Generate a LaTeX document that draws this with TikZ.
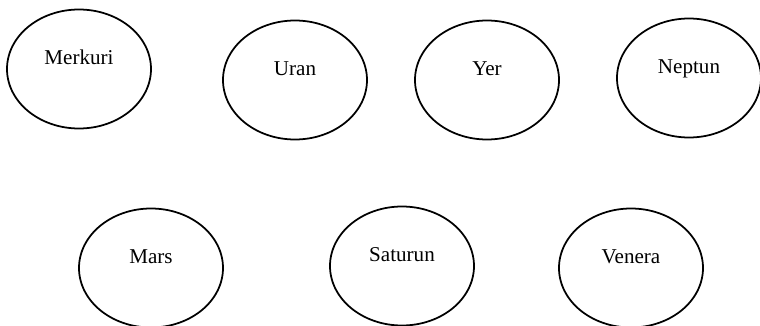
\documentclass[tikz,border=0pt]{standalone}
\usepackage{fontspec}
\setmainfont{Liberation Serif}
\usetikzlibrary{shapes.geometric}

\begin{document}
\begin{tikzpicture}[planet/.style={draw, ellipse, line width=1pt, minimum width=2.88cm, minimum height=2.38cm,
    text height=0.3cm, text depth=0.48cm, inner sep=0pt},
  every node/.style={font=\fontsize{12pt}{14pt}\selectfont}]
\useasboundingbox (0,0) rectangle (15.2,-6.52);
% top row
\node[planet] (merkuri) at (1.58,-1.38) {Merkuri};
\node[planet] (uran) at (5.9,-1.6) {Uran};
\node[planet] (yer) at (9.74,-1.6) {Yer};
\node[planet] (neptun) at (13.78,-1.56) {Neptun};
% bottom row
\node[planet] (mars) at (3.02,-5.36) {Mars};
\node[planet] (saturun) at (8.04,-5.32) {Saturun};
\node[planet] (venera) at (12.62,-5.36) {Venera};
\end{tikzpicture}
\end{document}
